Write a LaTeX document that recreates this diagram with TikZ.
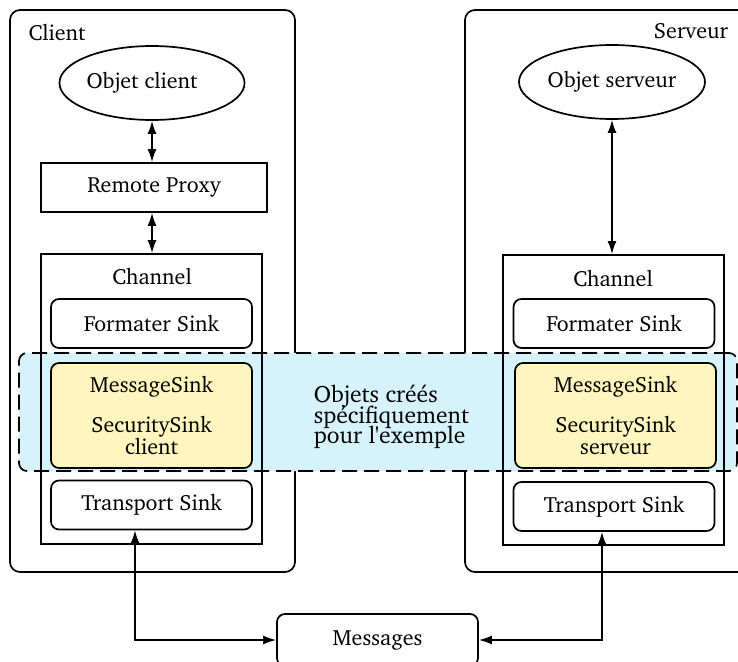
\documentclass[tikz,border=0pt]{standalone}
\usepackage[T1]{fontenc}
\usepackage{charter}
\usetikzlibrary{positioning, calc, shapes.geometric, arrows.meta}

\definecolor{zonebleu}{RGB}{214,243,252}
\definecolor{sinkjaune}{RGB}{255,245,190}
\newcommand\notefont{\fontsize{11.8}{10.3}\selectfont\setlength{\lineskiplimit}{-5pt}}

\begin{document}
\begin{tikzpicture}[x=0.5pt, y=-0.5pt, line width=0.85pt, font=\fontsize{11}{13}\selectfont,
  boite/.style={rectangle,draw,rounded corners=5pt,minimum height=281pt},
  objet/.style={ellipse,draw,minimum height=37pt,inner sep=0pt},
  block/.style={rectangle,draw,minimum height=24.5pt,minimum width=113pt},
  channel/.style={rectangle,draw,minimum width=110.5pt,minimum height=145pt},
  sink/.style={rectangle,draw,rounded corners=4pt,fill=white,minimum width=100.5pt,minimum height=24.5pt},
  sink2/.style={sink,fill=sinkjaune,minimum height=52.5pt,align=center,font=\fontsize{11}{11}\selectfont},
  zone/.style={rectangle,draw,dash pattern=on 7.5pt off 3.5pt,rounded corners=4pt,fill=zonebleu,minimum width=359pt,minimum height=59pt},
  fleche/.style={{Latex[length=6.5pt,width=4.5pt]}-{Latex[length=6.5pt,width=4.5pt]}}]
\useasboundingbox (0,0) rectangle (738,662);

% client and server frames
\node (client) [boite, minimum width=142.5pt] at (152.5,291) {};
\node (serveur) [boite, minimum width=147.5pt] at (612.5,291) {};
\node (clientlbl) at (57,33) {Client};
\node (serveurlbl) at (691,31) {Serveur};

% shared area for the custom sinks
\node (zone) [zone] at (378,412) {};
\node (note) [align=left, anchor=west, inner sep=0pt, font=\notefont] at (313,417) {Objets cr\'e\'es\\sp\'ecifiquement\\pour l\textquotesingle exemple};

% client side
\node (objc) [objet, minimum width=92pt] at (152,83) {\raisebox{-1.5pt}{Objet client}\hspace*{10pt}};
\node (proxy) [block] at (154,187.5) {Remote Proxy};
\node (chanc) [channel] at (151.5,399) {};
\node (chanclbl) at (152,277) {Channel};
\node (fmtc) [sink] at (151.5,323.5) {Formater Sink};
\node (msgc) [sink2] at (151.5,415.5) {MessageSink\\[9pt]SecuritySink\\client};
\node (trpc) [sink] at (151.5,505) {Transport Sink};

% server side
\node (objs) [objet, minimum width=93pt] at (612,82) {Objet serveur};
\node (chans) [channel] at (613.5,400) {};
\node (chanslbl) at (613,279) {Channel};
\node (fmts) [sink] at (614,323.5) {Formater Sink};
\node (msgs) [sink2] at (615.5,415.5) {MessageSink\\[9pt]SecuritySink\\serveur};
\node (trps) [sink] at (614,506.5) {Transport Sink};

\node (msg) [sink, minimum height=26pt] at (377.5,640) {Messages};

\draw [fleche] (objc.south) -- (objc.south |- proxy.north);
\draw [fleche] (proxy.south -| objc.south) -- (chanc.north -| objc.south);
\draw [fleche] (objs.south) -- (objs.south |- chans.north);
\draw [fleche] ([xshift=-8.25pt]trpc.south) |- (msg.west);
\draw [fleche] (msg.east) -| ([xshift=-6pt]trps.south);
\end{tikzpicture}
\end{document}
